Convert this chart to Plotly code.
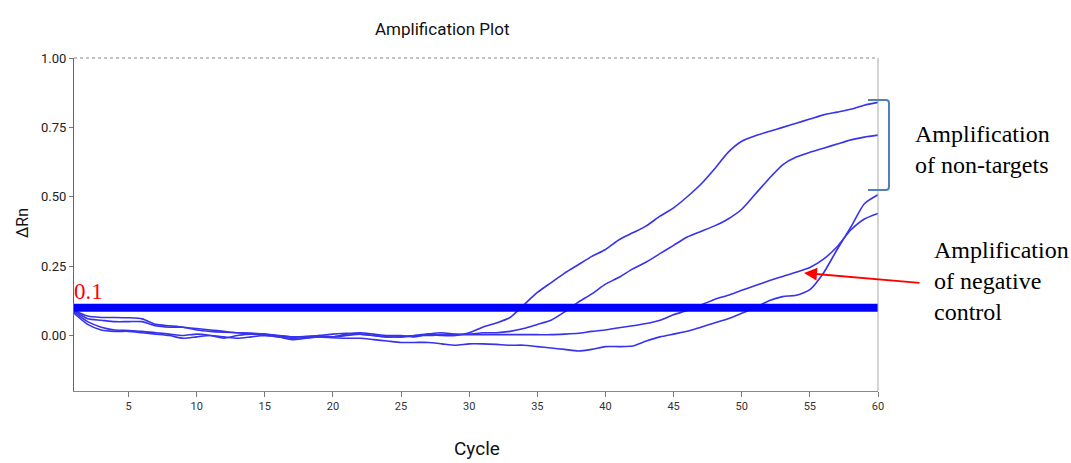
import plotly.graph_objects as go

cycles = list(range(1, 61))

nontarget_1 = [0.09, 0.07, 0.065, 0.065, 0.064, 0.06, 0.04, 0.035, 0.03, 0.02,
               0.015, 0.012, 0.01, 0.008, 0.005, 0.0, -0.005, -0.003, 0.0, 0.005,
               0.008, 0.005, 0.0, -0.005, -0.005, 0.0, 0.005, 0.0, 0.0, 0.01,
               0.03, 0.045, 0.065, 0.11, 0.155, 0.19, 0.225, 0.255, 0.285, 0.31,
               0.345, 0.37, 0.395, 0.43, 0.46, 0.5, 0.545, 0.6, 0.66, 0.7,
               0.72, 0.735, 0.75, 0.765, 0.78, 0.795, 0.805, 0.815, 0.83, 0.84]

nontarget_2 = [0.085, 0.05, 0.03, 0.02, 0.018, 0.015, 0.01, 0.005, 0.0, 0.005,
               0.0, -0.01, 0.0, 0.005, 0.0, -0.005, -0.015, -0.01, -0.005, -0.005,
               0.005, 0.01, 0.005, 0.0, 0.0, -0.005, 0.005, 0.01, 0.005, 0.005,
               0.01, 0.01, 0.015, 0.025, 0.04, 0.055, 0.085, 0.12, 0.15, 0.185,
               0.21, 0.24, 0.265, 0.295, 0.325, 0.355, 0.375, 0.395, 0.42, 0.455,
               0.51, 0.565, 0.615, 0.643, 0.66, 0.675, 0.69, 0.705, 0.715, 0.722]

negative_control = [0.09, 0.06, 0.055, 0.05, 0.05, 0.05, 0.035, 0.03, 0.03, 0.025,
                    0.02, 0.015, 0.01, 0.008, 0.005, 0.0, -0.005, -0.005, 0.0, -0.005,
                    0.0, 0.005, 0.0, -0.005, -0.005, 0.0, 0.0, 0.003, 0.003, 0.003,
                    0.003, 0.003, 0.003, 0.003, 0.003, 0.003, 0.005, 0.008, 0.015, 0.02,
                    0.028, 0.035, 0.043, 0.055, 0.075, 0.09, 0.11, 0.13, 0.145, 0.163,
                    0.18, 0.197, 0.213, 0.228, 0.245, 0.275, 0.32, 0.38, 0.42, 0.44]

sample_4 = [0.08, 0.04, 0.02, 0.015, 0.015, 0.01, 0.005, 0.0, -0.01, -0.005,
            0.0, -0.005, -0.01, -0.005, 0.0, -0.005, -0.01, -0.008, -0.005, -0.008,
            -0.01, -0.01, -0.015, -0.02, -0.025, -0.025, -0.025, -0.03, -0.035, -0.03,
            -0.03, -0.032, -0.035, -0.035, -0.04, -0.045, -0.05, -0.056, -0.05, -0.04,
            -0.04, -0.038, -0.02, -0.005, 0.005, 0.015, 0.03, 0.045, 0.06, 0.08,
            0.1, 0.125, 0.14, 0.145, 0.165, 0.225, 0.31, 0.39, 0.475, 0.507]

threshold = 0.1
threshold_label = "0.1"
x_ticks = [5, 10, 15, 20, 25, 30, 35, 40, 45, 50, 55, 60]
y_ticks = [0.0, 0.25, 0.5, 0.75, 1.0]

W, H = 1071, 463
L, R, T, B = 74, 878, 58, 391


def px(x):
    return (x - L) / (R - L)


def py(y):
    return (B - y) / (B - T)


NARROW = "Liberation Sans Narrow, Arial Narrow, Roboto, Liberation Sans, sans-serif"
SERIF = "Liberation Serif, Times New Roman, serif"

fig = go.Figure()
for series in [nontarget_1, nontarget_2, negative_control, sample_4]:
    fig.add_trace(go.Scatter(x=cycles, y=series, mode="lines",
                             line=dict(color="rgb(55,50,235)", width=1.6,
                                       shape="spline", smoothing=0.6),
                             showlegend=False, hoverinfo="skip"))

fig.add_trace(go.Scatter(x=[cycles[0], cycles[-1]], y=[threshold, threshold],
                         mode="lines", line=dict(color="rgb(0,0,255)", width=8),
                         showlegend=False, hoverinfo="skip"))

fig.update_layout(
    width=W, height=H,
    margin=dict(l=L, r=W - R, t=T, b=H - B),
    paper_bgcolor="white", plot_bgcolor="white",
    xaxis=dict(range=[1, 60], tickvals=x_ticks, ticks="outside", ticklen=5,
               tickcolor="#777", showline=True, linecolor="#888", linewidth=1,
               showgrid=False, zeroline=False,
               tickfont=dict(family=NARROW, size=11, color="#333")),
    yaxis=dict(range=[-0.2, 1.0], tickvals=y_ticks, tickformat=".2f",
               ticks="outside", ticklen=4, tickcolor="#777", showline=True,
               linecolor="#666", linewidth=1, showgrid=False, zeroline=False,
               tickfont=dict(family=NARROW, size=13, color="#222")),
)

shapes = [
    dict(type="line", xref="paper", yref="paper", x0=0, x1=1, y0=1, y1=1,
         line=dict(color="#b0b0b0", width=1.5, dash="dot")),
    dict(type="line", xref="paper", yref="paper", x0=1, x1=1, y0=0, y1=1,
         line=dict(color="#aaaaaa", width=1)),
    dict(type="path", xref="paper", yref="paper",
         path=(f"M {px(868)} {py(100)} L {px(886)} {py(100)} "
               f"Q {px(889)} {py(100)} {px(889)} {py(103)} "
               f"L {px(889)} {py(187)} Q {px(889)} {py(190)} {px(886)} {py(190)} "
               f"L {px(868)} {py(190)}"),
         line=dict(color="#4f81bd", width=2)),
]
fig.update_layout(shapes=shapes)

annotations = [
    dict(text="Amplification Plot", xref="paper", yref="paper", x=px(442), y=py(29),
         xanchor="center", yanchor="middle", showarrow=False,
         font=dict(family=NARROW, size=17, color="#111")),
    dict(text="ΔRn", xref="paper", yref="paper", x=px(22), y=py(223),
         xanchor="center", yanchor="middle", showarrow=False, textangle=-90,
         font=dict(family=NARROW, size=16, color="#111")),
    dict(text="Cycle", xref="paper", yref="paper", x=px(477), y=py(448),
         xanchor="center", yanchor="middle", showarrow=False,
         font=dict(family=NARROW, size=19, color="#111")),
    dict(text=threshold_label, xref="paper", yref="paper", x=px(72), y=py(306),
         xanchor="left", yanchor="bottom", showarrow=False,
         font=dict(family=SERIF, size=23, color="red")),
    dict(text="Amplification<br>of non-targets", xref="paper", yref="paper",
         x=px(913), y=py(149), xanchor="left", yanchor="middle", align="left",
         showarrow=False, font=dict(family=SERIF, size=24, color="black")),
    dict(text="Amplification<br>of negative<br>control", xref="paper", yref="paper",
         x=px(932), y=py(281), xanchor="left", yanchor="middle", align="left",
         showarrow=False, font=dict(family=SERIF, size=24, color="black")),
    dict(text="", xref="paper", yref="paper", x=px(804), y=py(273),
         ax=117, ay=10, showarrow=True, arrowhead=2, arrowsize=1.3,
         arrowwidth=2, arrowcolor="red"),
]
fig.update_layout(annotations=annotations)

fig.write_html("out.html")
